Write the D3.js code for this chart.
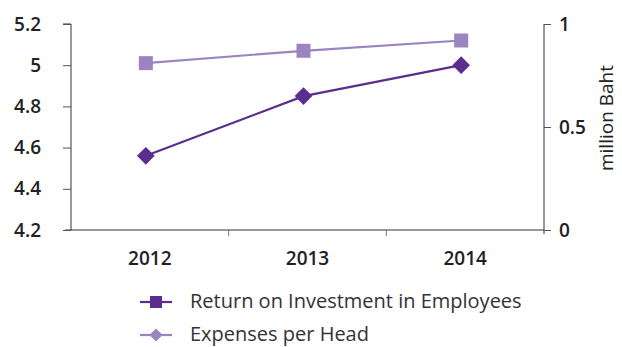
<!DOCTYPE html>
<html>
<head>
<meta charset="utf-8">
<script src="https://cdn.jsdelivr.net/npm/d3@7"></script>
<style>
  body { margin: 0; background: #fff; }
  svg { font-family: "Open Sans", "Noto Sans", sans-serif; }
</style>
</head>
<body>
<svg width="622" height="347"></svg>
<script>
// data
const years = ['2012', '2013', '2014'];
const roiValues = [4.56, 4.85, 5.0];       // left axis
const expenseValues = [0.81, 0.87, 0.92];  // right axis, million Baht
const leftTicks = [4.2, 4.4, 4.6, 4.8, 5, 5.2];
const rightTicks = [0, 0.5, 1];
const seriesNames = ['Return on Investment in Employees', 'Expenses per Head'];

function render() {
    const svg = d3.select('svg');
    const left = 71, right = 544, top = 24, bottom = 230;
    const dark = '#5b2d8e', light = '#9b84c0';

    const x = d3.scaleBand().domain(years).range([left, right]);
    const yL = d3.scaleLinear().domain([4.2, 5.2]).range([bottom, top]);
    const yR = d3.scaleLinear().domain([0, 1]).range([bottom, top]);

    // x axis
    const xAxis = svg.append('g').attr('transform', `translate(0,${bottom})`);
    xAxis.append('line').attr('x1', left - 6).attr('x2', right).attr('stroke', '#777').attr('stroke-width', 1.3);
    xAxis.selectAll('line.tick').data(years.slice(1)).enter().append('line')
        .attr('x1', d => x(d)).attr('x2', d => x(d)).attr('y1', 0).attr('y2', 6)
        .attr('stroke', '#777');
    xAxis.selectAll('text').data(years).enter().append('text')
        .attr('x', d => x(d) + x.bandwidth() / 2).attr('y', 35)
        .attr('text-anchor', 'middle').attr('font-size', 19).attr('font-weight', 600).attr('fill', '#222')
        .text(d => d);

    // left axis
    const gL = svg.append('g').attr('transform', `translate(${left},0)`)
        .call(d3.axisLeft(yL).tickValues(leftTicks).tickSize(8).tickPadding(22).tickFormat(d3.format('')));
    gL.select('.domain').attr('d', `M-8,${top}H0V${bottom}`).attr('stroke', '#333');
    gL.selectAll('.tick line').attr('stroke', '#555');
    gL.selectAll('.tick text').attr('font-size', 19).attr('font-weight', 600).attr('fill', '#222');
    gL.attr('font-family', null);

    // right axis
    const gR = svg.append('g').attr('transform', `translate(${right},0)`)
        .call(d3.axisRight(yR).tickValues(rightTicks).tickSize(7).tickPadding(8).tickFormat(d3.format('')));
    gR.select('.domain').attr('d', `M0,${top}V${bottom + 4}`).attr('stroke', '#333');
    gR.selectAll('.tick line').attr('stroke', '#555');
    gR.selectAll('.tick text').attr('font-size', 19).attr('font-weight', 600).attr('fill', '#222');
    gR.attr('font-family', null);

    svg.append('text')
        .attr('transform', `translate(613,118) rotate(-90)`)
        .attr('text-anchor', 'middle').attr('font-size', 19).attr('fill', '#222')
        .text('million Baht');

    const cx = d => x(d) + x.bandwidth() / 2 - 4;

    // expenses per head (light, squares)
    const lineR = d3.line().x((d, i) => cx(years[i])).y(d => yR(d));
    svg.append('path').datum(expenseValues).attr('d', lineR)
        .attr('fill', 'none').attr('stroke', light).attr('stroke-width', 2.2);
    svg.selectAll('rect.exp').data(expenseValues).enter().append('rect')
        .attr('x', (d, i) => cx(years[i]) - 7).attr('y', d => yR(d) - 7)
        .attr('width', 14).attr('height', 14).attr('fill', light);

    // ROI (dark, diamonds)
    const lineL = d3.line().x((d, i) => cx(years[i])).y(d => yL(d));
    svg.append('path').datum(roiValues).attr('d', lineL)
        .attr('fill', 'none').attr('stroke', dark).attr('stroke-width', 2.2);
    const diamond = d3.symbol().type(d3.symbolDiamond2).size(200);
    svg.selectAll('path.roi').data(roiValues).enter().append('path')
        .attr('d', diamond)
        .attr('transform', (d, i) => `translate(${cx(years[i])},${yL(d)})`)
        .attr('fill', dark);

    // legend (markers as in the original)
    const legend = svg.append('g');
    const items = [
        { name: seriesNames[0], color: dark, shape: 'square', y: 302 },
        { name: seriesNames[1], color: light, shape: 'diamond', y: 335 }
    ];
    items.forEach(it => {
        legend.append('line').attr('x1', 140).attr('x2', 172).attr('y1', it.y).attr('y2', it.y)
            .attr('stroke', it.color).attr('stroke-width', 2.2);
        if (it.shape === 'square') {
            legend.append('rect').attr('x', 150).attr('y', it.y - 6).attr('width', 12).attr('height', 12)
                .attr('fill', it.color);
        } else {
            legend.append('path').attr('d', d3.symbol().type(d3.symbolDiamond2).size(110))
                .attr('transform', `translate(156,${it.y})`).attr('fill', it.color);
        }
        legend.append('text').attr('x', 190).attr('y', it.y + 6)
            .attr('font-size', 20).attr('fill', '#333').text(it.name);
    });
}

render();
</script>
</body>
</html>
